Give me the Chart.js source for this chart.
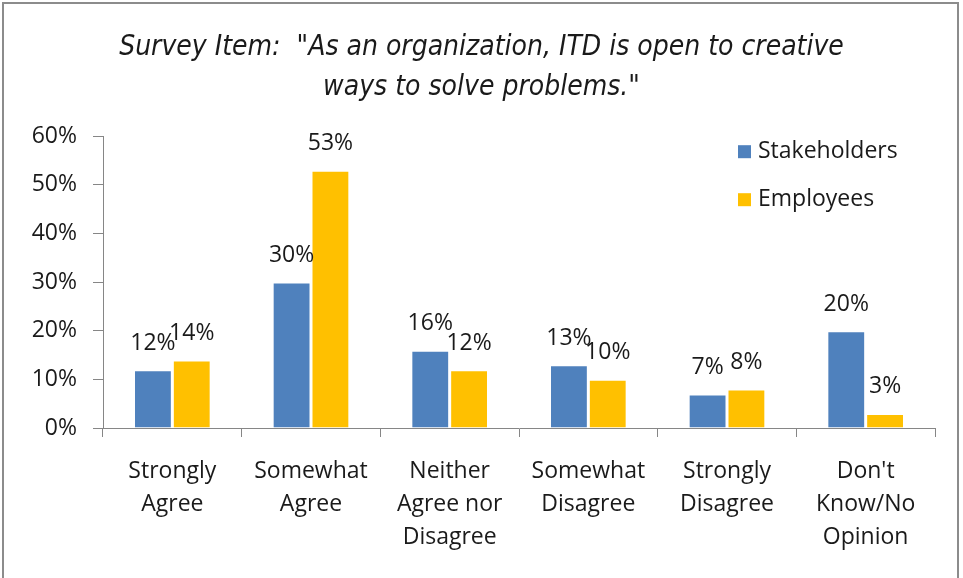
<!DOCTYPE html>
<html>
<head>
<meta charset="utf-8">
<script src="https://cdn.jsdelivr.net/npm/chart.js@4"></script>
<style>
  html, body { margin: 0; padding: 0; background: #fff; }
  #frame {
    position: absolute; left: 2px; top: 2px; width: 953px; height: 600px;
    border: 2px solid #8c8c8c; border-bottom: none;
  }
  #wrap { position: absolute; left: 0; top: 0; width: 963px; height: 578px; }
</style>
</head>
<body>
<div id="frame"></div>
<div id="wrap"><canvas id="chart"></canvas></div>
<script>
// Datos del gráfico
const categories = [
  ['Strongly', 'Agree'],
  ['Somewhat', 'Agree'],
  ['Neither', 'Agree nor', 'Disagree'],
  ['Somewhat', 'Disagree'],
  ['Strongly', 'Disagree'],
  ["Don't", 'Know/No', 'Opinion']
];
const stakeholders = [12, 30, 16, 13, 7, 20];
const employees = [14, 53, 12, 10, 8, 3];
const seriesNames = ['Stakeholders', 'Employees'];
const titleLines = ['Survey Item:  "As an organization, ITD is open to creative', 'ways to solve problems."'];
const yTicksMax = 60;

const FONT = '"Open Sans", "Noto Sans", sans-serif';
const TEXT = '#1a1a1a';

// Etiquetas de valor encima de cada barra
const valueLabels = {
  id: 'valueLabels',
  afterDatasetsDraw(chart) {
    const ctx = chart.ctx;
    ctx.save();
    ctx.font = '23px ' + FONT;
    ctx.fillStyle = TEXT;
    ctx.textAlign = 'center';
    ctx.textBaseline = 'alphabetic';
    chart.data.datasets.forEach((ds, i) => {
      chart.getDatasetMeta(i).data.forEach((bar, j) => {
        ctx.fillText(ds.data[j] + '%', bar.x, bar.y - 20);
      });
    });
    ctx.restore();
  }
};

// Leyenda dentro del área del gráfico
const innerLegend = {
  id: 'innerLegend',
  afterDraw(chart) {
    const ctx = chart.ctx;
    const area = chart.chartArea;
    const x = area.right - 197;
    let y = area.top + 15;
    ctx.save();
    ctx.font = '23px ' + FONT;
    ctx.textBaseline = 'middle';
    chart.data.datasets.forEach(ds => {
      ctx.fillStyle = ds.backgroundColor;
      ctx.fillRect(x, y - 6, 13, 13);
      ctx.fillStyle = TEXT;
      ctx.fillText(ds.label, x + 20, y);
      y += 48;
    });
    ctx.restore();
  }
};

new Chart(document.getElementById('chart'), {
  type: 'bar',
  data: {
    labels: categories,
    datasets: [
      {
        label: seriesNames[0],
        data: stakeholders,
        backgroundColor: '#4F81BD',
        borderColor: '#ffffff',
        borderWidth: 1.5
      },
      {
        label: seriesNames[1],
        data: employees,
        backgroundColor: '#FFC000',
        borderColor: '#ffffff',
        borderWidth: 1.5
      }
    ]
  },
  options: {
    responsive: true,
    maintainAspectRatio: false,
    animation: false,
    layout: { padding: { left: 28, right: 28, top: 0, bottom: 0 } },
    datasets: {
      bar: { categoryPercentage: 0.56, barPercentage: 1.0 }
    },
    scales: {
      x: {
        grid: { offset: true, drawOnChartArea: false, color: '#868686', tickLength: 9 },
        border: { color: '#868686' },
        ticks: {
          color: TEXT,
          font: { family: FONT, size: 23, lineHeight: 1.43 },
          maxRotation: 0,
          padding: 18
        },
        afterFit(scale) { scale.height = 150; }
      },
      y: {
        min: 0,
        max: yTicksMax,
        grid: { drawOnChartArea: false, color: '#868686', tickLength: 10 },
        border: { color: '#868686' },
        ticks: {
          stepSize: 10,
          color: TEXT,
          font: { family: FONT, size: 23 },
          padding: 16,
          callback: v => v + '%'
        },
        afterFit(scale) { scale.width = 75; }
      }
    },
    plugins: {
      legend: { display: false },
      tooltip: { enabled: false },
      title: {
        display: true,
        text: titleLines,
        color: TEXT,
        font: { family: '"Liberation Sans Narrow", "DejaVu Sans Condensed", ' + FONT, size: 28, style: 'italic', weight: 'normal', lineHeight: 1.45 },
        padding: { top: 27, bottom: 28 }
      }
    }
  },
  plugins: [valueLabels, innerLegend]
});
</script>
</body>
</html>
